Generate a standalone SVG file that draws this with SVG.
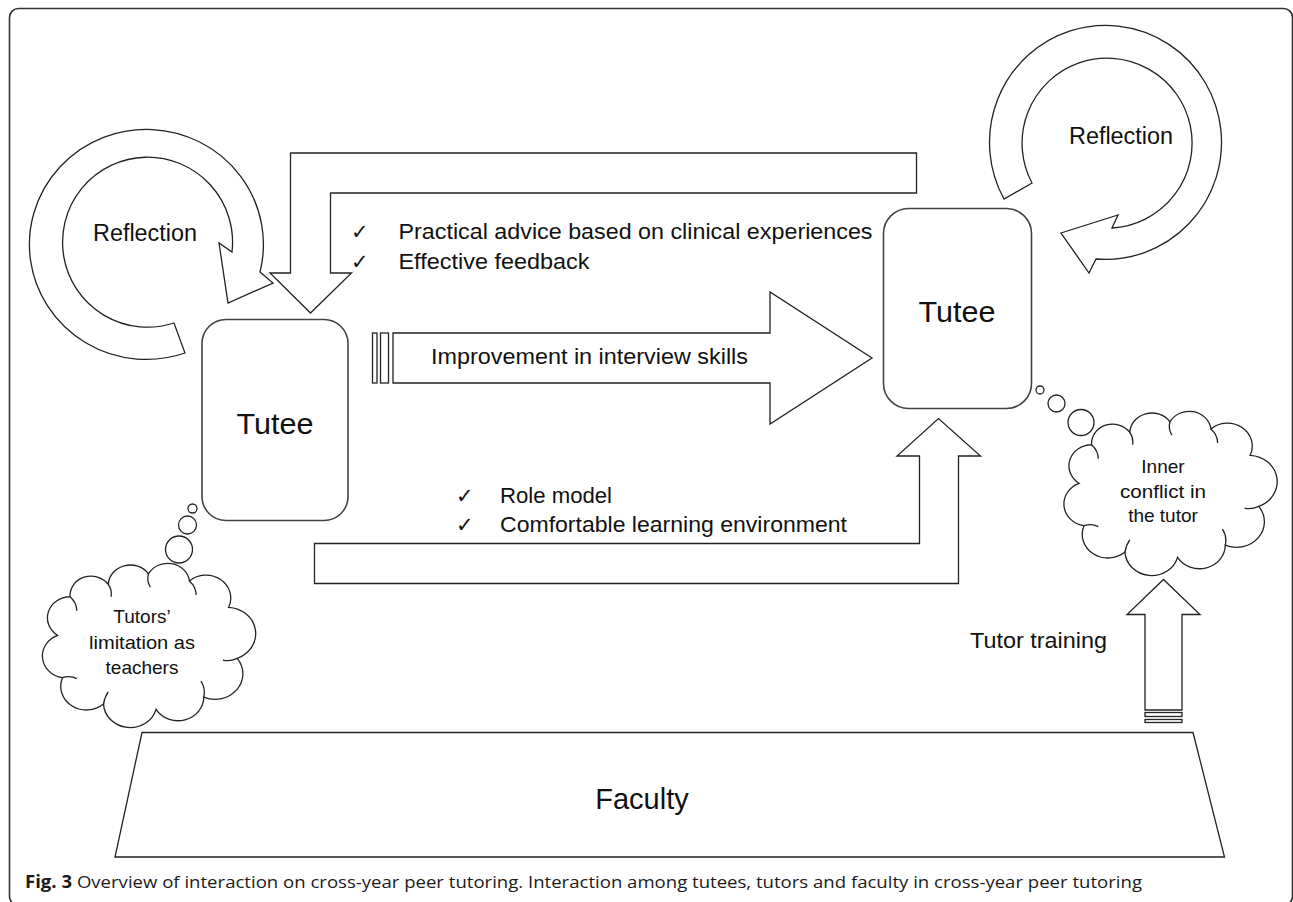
<svg xmlns="http://www.w3.org/2000/svg" width="1293" height="902" viewBox="0 0 1293 902">
  <style>
    .shape { fill: #fff; stroke: #222; stroke-width: 1.3; stroke-linejoin: miter; }
    .box { fill: #fff; stroke: #444; stroke-width: 1.6; }
    .thin { fill: none; stroke: #222; stroke-width: 1.3; vector-effect: non-scaling-stroke; }
    .cloud { fill: #fff; stroke: #222; stroke-width: 1.3; vector-effect: non-scaling-stroke; }
    .lbl { font-family: "Liberation Sans", Arial, sans-serif; fill: #111; }
    .big { font-size: 29px; text-anchor: middle; }
    .ref { font-size: 23px; text-anchor: middle; }
    .mid { font-size: 22px; }
    .cl { font-size: 19px; text-anchor: middle; }
    .chk { font-family: "DejaVu Sans", sans-serif; font-size: 21px; fill: #111; }
    .cap { font-family: "Open Sans", "Liberation Sans", sans-serif; font-size: 17px; fill: #1a1a1a; }
  </style>
  <defs>
    <g id="cloudShape">
      <path class="cloud" d="M -93 -8 A 24 24 0 0 1 -80 -52 A 22 22 0 0 1 -40 -66 A 23 23 0 0 1 2 -78 A 23 23 0 0 1 45 -70 A 26 26 0 0 1 86 -40 A 30 30 0 0 1 95 18 A 29 29 0 0 1 60 62 A 27 27 0 0 1 10 76 A 28 28 0 0 1 -45 70 A 27 27 0 0 1 -88 40 A 25 25 0 0 1 -93 -8 Z"/>
      <path class="thin" d="M -80 -52 Q -73 -45 -73 -36 M -40 -66 Q -36 -60 -37 -52 M 2 -78 Q 0 -70 4 -63 M 45 -70 Q 52 -63 52 -54 M 95 18 Q 87 22 80 20 M 60 62 Q 62 52 57 44 M -45 70 Q -44 62 -40 56 M -88 40 Q -80 37 -73 41"/>
    </g>
  </defs>

  <rect id="frame" x="9.5" y="8.5" width="1283" height="897" rx="9" fill="#fff" stroke="#333" stroke-width="1.6"/>

  <g id="connectors">
    <g id="reflection-left-arrow">
      <path class="shape" d="M 185 353 A 117 115 0 1 1 260 272 L 273 283 L 228 303 L 219 243 L 232 252 A 85 85 0 1 0 174 323 Z"/>
    </g>
    <g id="reflection-right-arrow">
      <path class="shape" d="M 1004 199 A 116 117 0 1 1 1096 259 L 1089 273 L 1061 233 L 1118 215 L 1112 228 A 85 85 0 1 0 1032 183 Z"/>
    </g>
    <g id="feedback-arrow">
      <path class="shape" d="M 290.5 153 L 916.5 153 L 916.5 193 L 330.5 193 L 330.5 273 L 351.5 273 L 310.5 313 L 270 273 L 290.5 273 Z"/>
    </g>
    <g id="improvement-arrow">
      <rect class="shape" x="372.5" y="333" width="4.5" height="50"/>
      <rect class="shape" x="380.5" y="333" width="8" height="50"/>
      <path class="shape" d="M 393 333 L 770 333 L 770 292 L 872 358 L 770 424 L 770 383 L 393 383 Z"/>
    </g>
    <g id="rolemodel-arrow">
      <path class="shape" d="M 314.5 543.5 L 919.5 543.5 L 919.5 456 L 897 456 L 938.5 418.5 L 980.5 456 L 958.5 456 L 958.5 583.5 L 314.5 583.5 Z"/>
    </g>
    <g id="training-arrow">
      <path class="shape" d="M 1145 710 L 1145 614.5 L 1127 614.5 L 1163.5 579.5 L 1200 614.5 L 1182 614.5 L 1182 710 Z"/>
      <rect class="shape" x="1145" y="712.5" width="37" height="4"/>
      <rect class="shape" x="1145" y="719.5" width="37" height="3"/>
    </g>
  </g>

  <g id="tutee-left">
    <rect class="box" x="202" y="319.5" width="146" height="201" rx="24"/>
    <text class="lbl big" x="275" y="434" textLength="77" lengthAdjust="spacingAndGlyphs">Tutee</text>
  </g>

  <g id="tutee-right">
    <rect class="box" x="883.5" y="208.5" width="148" height="200" rx="25"/>
    <text class="lbl big" x="957" y="322" textLength="77" lengthAdjust="spacingAndGlyphs">Tutee</text>
  </g>

  <g id="reflection-left-label">
    <text class="lbl ref" x="145" y="241" textLength="104" lengthAdjust="spacingAndGlyphs">Reflection</text>
  </g>
  <g id="reflection-right-label">
    <text class="lbl ref" x="1121" y="144" textLength="104" lengthAdjust="spacingAndGlyphs">Reflection</text>
  </g>

  <g id="feedback-label">
    <text class="chk" x="351" y="239">✓</text>
    <text class="chk" x="351" y="269">✓</text>
    <text class="lbl mid" x="398.5" y="239" textLength="474" lengthAdjust="spacingAndGlyphs">Practical advice based on clinical experiences</text>
    <text class="lbl mid" x="398.5" y="269" textLength="191" lengthAdjust="spacingAndGlyphs">Effective feedback</text>
  </g>

  <g id="improvement-label">
    <text class="lbl mid" x="431" y="364" textLength="317" lengthAdjust="spacingAndGlyphs">Improvement in interview skills</text>
  </g>

  <g id="rolemodel-label">
    <text class="chk" x="456" y="503">✓</text>
    <text class="chk" x="456" y="532">✓</text>
    <text class="lbl mid" x="500" y="503" textLength="112" lengthAdjust="spacingAndGlyphs">Role model</text>
    <text class="lbl mid" x="500" y="532" textLength="347" lengthAdjust="spacingAndGlyphs">Comfortable learning environment</text>
  </g>

  <g id="thought-left">
    <circle class="shape" cx="192.5" cy="508.5" r="4.5"/>
    <circle class="shape" cx="187.5" cy="525" r="9"/>
    <circle class="shape" cx="179" cy="549.5" r="13.5"/>
    <use href="#cloudShape" transform="translate(146.5 642.5) scale(0.955 0.88)"/>
    <text class="lbl cl" x="142" y="623">Tutors’</text>
    <text class="lbl cl" x="142" y="649" textLength="106" lengthAdjust="spacingAndGlyphs">limitation as</text>
    <text class="lbl cl" x="142" y="674">teachers</text>
  </g>

  <g id="thought-right">
    <circle class="shape" cx="1040" cy="390" r="4"/>
    <circle class="shape" cx="1056.5" cy="403.5" r="8.5"/>
    <circle class="shape" cx="1081" cy="422.5" r="13"/>
    <use href="#cloudShape" transform="translate(1168 490.5) scale(0.955 0.88)"/>
    <text class="lbl cl" x="1163" y="473">Inner</text>
    <text class="lbl cl" x="1163" y="498" textLength="86" lengthAdjust="spacingAndGlyphs">conflict in</text>
    <text class="lbl cl" x="1163" y="522">the tutor</text>
  </g>

  <g id="training-label">
    <text class="lbl mid" x="1107" y="648" text-anchor="end" textLength="137" lengthAdjust="spacingAndGlyphs">Tutor training</text>
  </g>

  <g id="faculty">
    <path class="shape" d="M 142 732.5 L 1193 732.5 L 1224.5 857 L 115 857 Z"/>
    <text class="lbl big" x="642" y="809">Faculty</text>
  </g>

  <g id="caption">
    <text class="cap" x="25" y="888" textLength="1117" lengthAdjust="spacingAndGlyphs"><tspan font-weight="bold">Fig. 3</tspan> Overview of interaction on cross-year peer tutoring. Interaction among tutees, tutors and faculty in cross-year peer tutoring</text>
  </g>
</svg>
